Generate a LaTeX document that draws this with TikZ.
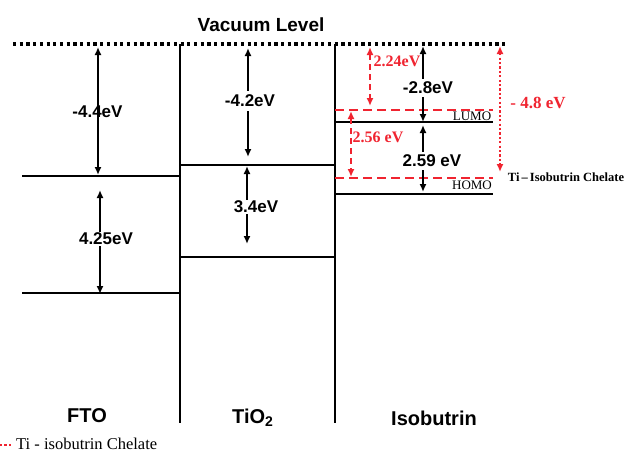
\documentclass[tikz,border=0pt]{standalone}
\usepackage{fontspec}
\setmainfont{Liberation Serif}
\newfontfamily\arialf{Liberation Sans}
\usetikzlibrary{arrows.meta}
\definecolor{chel}{RGB}{240,36,48}
\begin{document}
\begin{tikzpicture}[x=1pt,y=-1pt,
  vac/.style={line width=3.2pt,dash pattern=on 3.2pt off 3.5pt},
  lvl/.style={line width=2.6pt},
  chelline/.style={chel,line width=2.3pt,dash pattern=on 9pt off 5pt},
  earrow/.style={line width=2.2pt,{Latex[length=8pt,width=7pt]}-{Latex[length=8pt,width=7pt]}},
  rdash/.style={chel,line width=2.2pt,dash pattern=on 6pt off 4pt,{Latex[length=8pt,width=7pt]}-{Latex[length=8pt,width=7pt]}},
  rdot/.style={chel,line width=2.4pt,dash pattern=on 2.2pt off 2.2pt,{Latex[length=8pt,width=7pt]}-{Latex[length=8pt,width=7pt]}},
  blab/.style={font=\arialf\bfseries\fontsize{17}{19}\selectfont,inner sep=1pt},
  blabw/.style={blab,fill=white},
  rlab/.style={font=\bfseries\fontsize{16}{18}\selectfont,text=chel,inner sep=1pt},
  mlab/.style={font=\fontsize{13}{15}\selectfont,inner sep=0pt},
  head/.style={font=\arialf\bfseries\fontsize{20}{22}\selectfont,inner sep=0pt,anchor=base}
]
\useasboundingbox (0,0) rectangle (630,458);

% vacuum level
\coordinate (vacL) at (13,44);
\coordinate (vacR) at (506,44);
\draw[vac] (vacL) -- (vacR);
\node[head,font=\arialf\bfseries\fontsize{19}{21}\selectfont] (vtitle) at (261,31) {Vacuum Level};

% column separators
\coordinate (s1t) at (180,44); \coordinate (s1b) at (180,423);
\coordinate (s2t) at (335,44); \coordinate (s2b) at (335,423);
\draw[lvl] (s1t) -- (s1b);
\draw[lvl] (s2t) -- (s2b);

% FTO levels
\coordinate (f1L) at (22,176); \coordinate (f1R) at (180,176);
\coordinate (f2L) at (22,293); \coordinate (f2R) at (180,293);
\draw[lvl] (f1L) -- (f1R);
\draw[lvl] (f2L) -- (f2R);

% TiO2 levels
\coordinate (t1L) at (180,165); \coordinate (t1R) at (335,165);
\coordinate (t2L) at (180,257); \coordinate (t2R) at (335,257);
\draw[lvl] (t1L) -- (t1R);
\draw[lvl] (t2L) -- (t2R);

% Isobutrin levels
\coordinate (luL) at (335,122); \coordinate (luR) at (493,122);
\coordinate (hoL) at (335,194); \coordinate (hoR) at (493,194);
\draw[lvl] (luL) -- (luR);
\draw[lvl] (hoL) -- (hoR);

% chelate levels
\coordinate (c1L) at (335,110); \coordinate (c1R) at (493,110);
\coordinate (c2L) at (335,178); \coordinate (c2R) at (493,178);
\draw[chelline] (c1L) -- (c1R);
\draw[chelline] (c2L) -- (c2R);

\node[mlab] (lumo) at (472,116) {LUMO};
\node[mlab] (homo) at (472,185.5) {HOMO};
\node[font=\bfseries\fontsize{12.5}{14}\selectfont,inner sep=0pt] (chelname) at (566,177) {Ti\,–\,Isobutrin Chelate};

% black arrows
\coordinate (a1t) at (98,47);  \coordinate (a1b) at (98,175);
\draw[earrow] (a1t) -- (a1b);
\node[blab] (l1) at (97.5,112) {-4.4eV};

\coordinate (a2t) at (100,190); \coordinate (a2b) at (100,294);
\draw[earrow] (a2t) -- (a2b);
\node[blabw] (l2) at (106,239) {4.25eV};

\coordinate (a3t) at (248,48); \coordinate (a3b) at (248,157);
\draw[earrow] (a3t) -- (a3b);
\node[blabw,inner ysep=4pt] (l3) at (250,101) {-4.2eV};

\coordinate (a4t) at (247,166); \coordinate (a4b) at (247,244);
\draw[earrow] (a4t) -- (a4b);
\node[blabw] (l4) at (256,207) {3.4eV};

\coordinate (a5t) at (423,46); \coordinate (a5b) at (423,122);
\draw[earrow] (a5t) -- (a5b);
\node[blabw,inner ysep=3pt] (l5) at (428,88) {-2.8eV};

\coordinate (a6t) at (423,125); \coordinate (a6b) at (423,192);
\draw[earrow] (a6t) -- (a6b);
\node[blabw,inner ysep=3pt] (l6) at (432,161) {2.59 eV};

% red arrows
\coordinate (r1t) at (370,47); \coordinate (r1b) at (370,106);
\draw[rdash] (r1t) -- (r1b);
\node[rlab] (rl1) at (397,61) {2.24eV};

\coordinate (r2t) at (351,111); \coordinate (r2b) at (351,177);
\draw[rdash] (r2t) -- (r2b);
\node[rlab] (rl2) at (378,137) {2.56 eV};

\coordinate (r3t) at (500,46); \coordinate (r3b) at (500,172);
\draw[rdot] (r3t) -- (r3b);
\node[rlab,font=\bfseries\fontsize{17}{19}\selectfont] (rl3) at (538,103) {- 4.8 eV};

% column titles
\node[head] (fto) at (87,422) {FTO};
\node[head,anchor=base west] (tio) at (232,423) {TiO\textsubscript{2}};
\node[head] (iso) at (434,425) {Isobutrin};

% legend
\coordinate (lgA) at (0,445); \coordinate (lgB) at (13,445);
\draw[chel,line width=2.4pt,dash pattern=on 2.2pt off 2.2pt] (lgA) -- (lgB);
\node[anchor=base west,inner sep=0pt,font=\fontsize{16.5}{18}\selectfont] (legend) at (16,449) {Ti - isobutrin Chelate};
\end{tikzpicture}
\end{document}
